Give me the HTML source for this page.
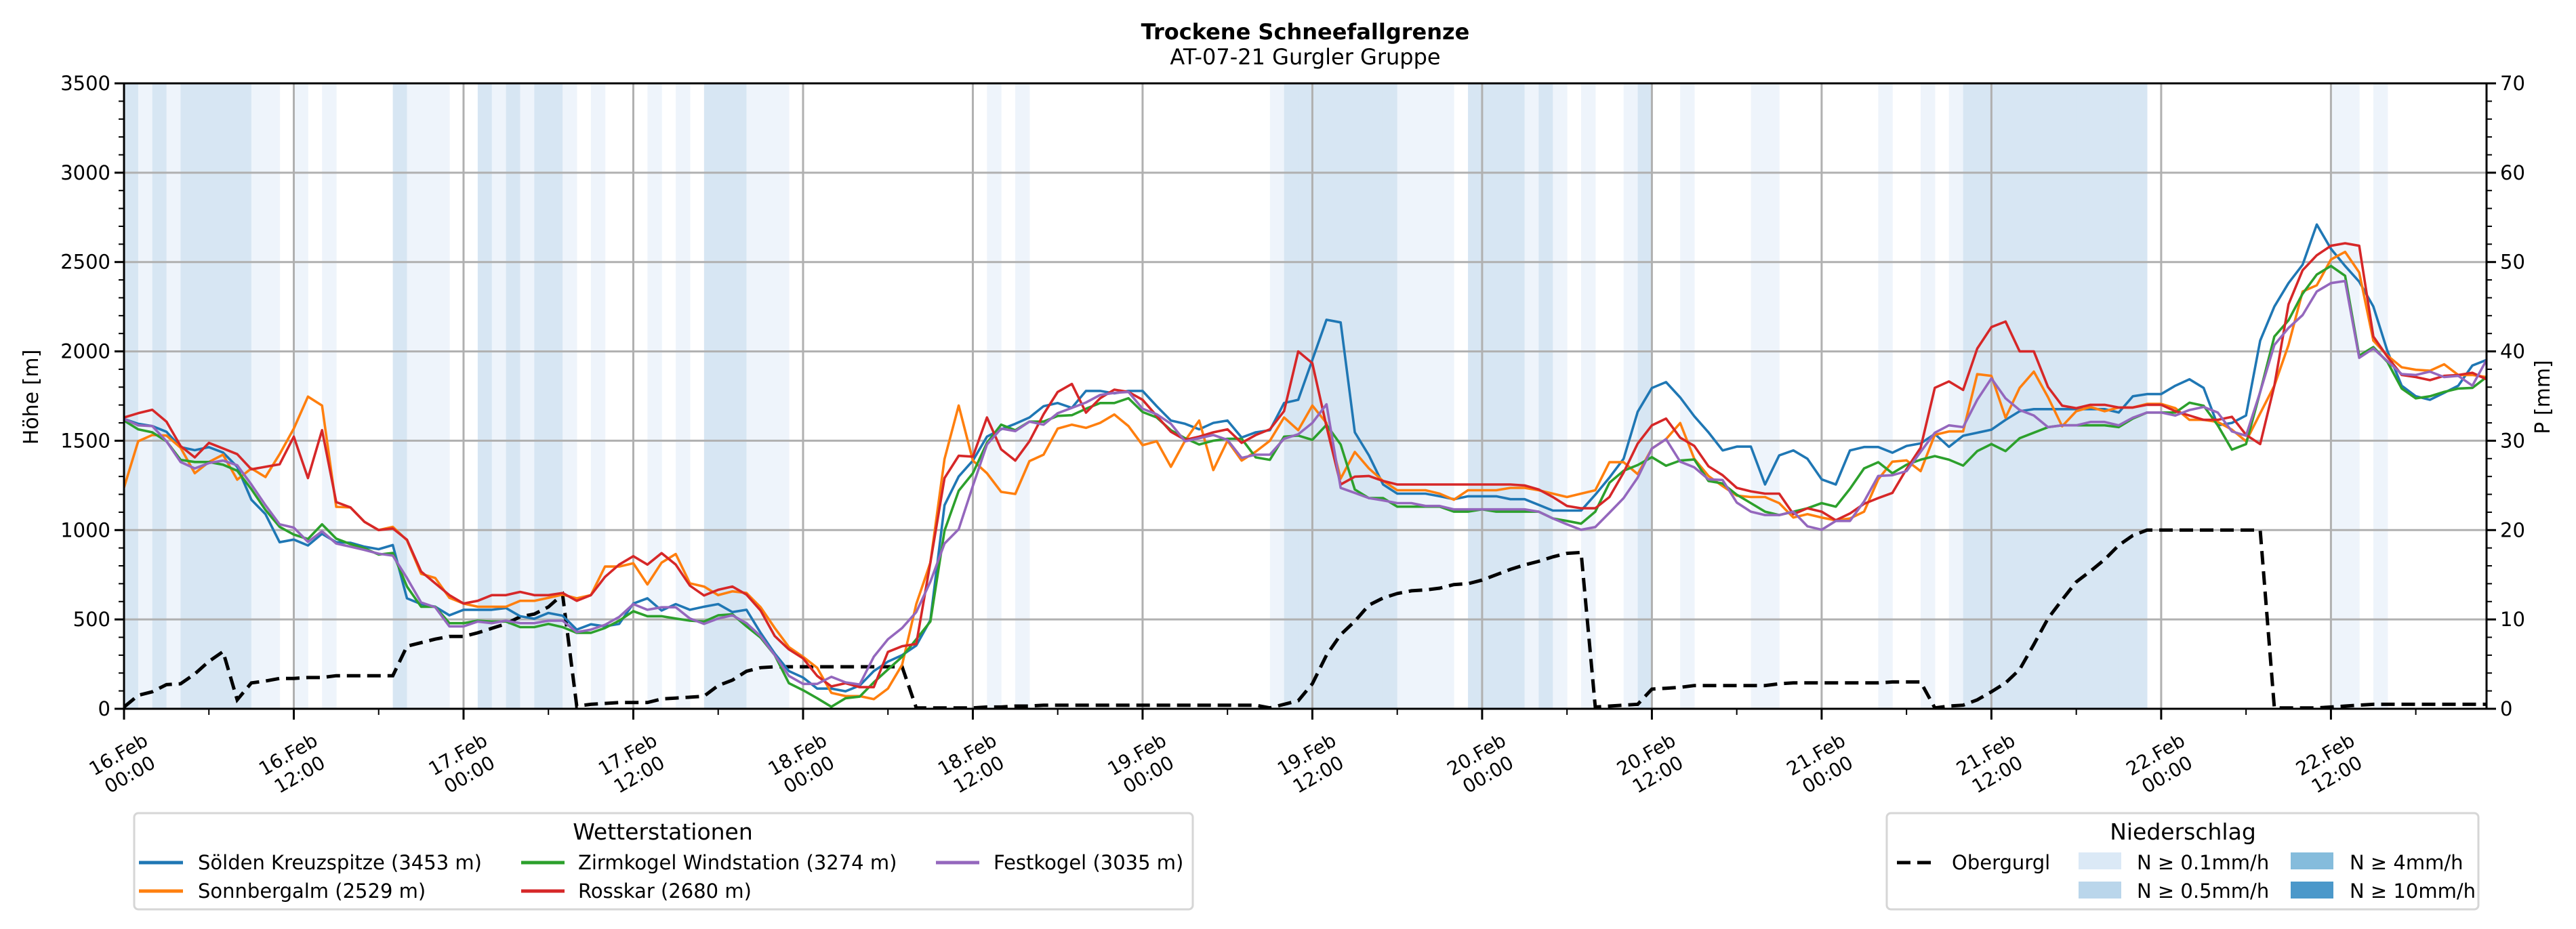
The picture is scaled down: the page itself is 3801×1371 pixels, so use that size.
<!DOCTYPE html>
<html><head><meta charset="utf-8"><style>
html,body{margin:0;padding:0;background:#fff;}
svg{display:block;font-family:"DejaVu Sans","Liberation Sans",sans-serif;}
</style></head><body>
<svg id="chart" xmlns="http://www.w3.org/2000/svg" width="3801" height="1371" viewBox="0 0 3801 1371">
<rect x="0" y="0" width="3801" height="1371" fill="#fff"/>
<text x="1926" y="58" text-anchor="middle" font-size="32" font-weight="bold">Trockene Schneefallgrenze</text>
<text x="1926" y="95" text-anchor="middle" font-size="32">AT-07-21 Gurgler Gruppe</text>
<defs><clipPath id="plotclip"><rect x="183" y="123" width="3486" height="923"/></clipPath></defs>
<g id="bands" clip-path="url(#plotclip)"></g>
<g id="grid"></g>
<g id="series" clip-path="url(#plotclip)"></g>
<g id="axes"></g>
<text transform="translate(56,586) rotate(-90)" text-anchor="middle" font-size="30">Höhe [m]</text>
<text transform="translate(3762,586) rotate(-90)" text-anchor="middle" font-size="30">P [mm]</text>

<g>
<rect x="198" y="1200" width="1562" height="142" rx="6" fill="#fff" stroke="#d6d6d6" stroke-width="3"/>
<text x="978" y="1239" text-anchor="middle" font-size="33">Wetterstationen</text>
<g><line x1="205" y1="1273" x2="270" y2="1273" stroke="#1f77b4" stroke-width="5"/><text x="292" y="1283" font-size="29">Sölden Kreuzspitze (3453 m)</text></g>
<g><line x1="205" y1="1315" x2="270" y2="1315" stroke="#ff7f0e" stroke-width="5"/><text x="292" y="1325" font-size="29">Sonnbergalm (2529 m)</text></g>
<g><line x1="769" y1="1273" x2="833" y2="1273" stroke="#2ca02c" stroke-width="5"/><text x="853" y="1283" font-size="29">Zirmkogel Windstation (3274 m)</text></g>
<g><line x1="769" y1="1315" x2="833" y2="1315" stroke="#d62728" stroke-width="5"/><text x="853" y="1325" font-size="29">Rosskar (2680 m)</text></g>
<g><line x1="1381" y1="1273" x2="1445" y2="1273" stroke="#9467bd" stroke-width="5"/><text x="1466" y="1283" font-size="29">Festkogel (3035 m)</text></g>
</g>

<g>
<rect x="2784" y="1200" width="873" height="142" rx="6" fill="#fff" stroke="#d6d6d6" stroke-width="3"/>
<text x="3221" y="1239" text-anchor="middle" font-size="33">Niederschlag</text>
<g><line x1="2799" y1="1273" x2="2855" y2="1273" stroke="#000" stroke-width="5" stroke-dasharray="20 10"/><text x="2880" y="1283" font-size="29">Obergurgl</text></g>
<g><rect x="3067" y="1258" width="63" height="25" fill="#dbe9f6"/><text x="3153" y="1283" font-size="29">N ≥ 0.1mm/h</text></g>
<g><rect x="3067" y="1301" width="63" height="25" fill="#bad6eb"/><text x="3153" y="1325" font-size="29">N ≥ 0.5mm/h</text></g>
<g><rect x="3380" y="1258" width="63" height="25" fill="#85bcdc"/><text x="3467" y="1283" font-size="29">N ≥ 4mm/h</text></g>
<g><rect x="3380" y="1301" width="63" height="25" fill="#4b98ca"/><text x="3467" y="1325" font-size="29">N ≥ 10mm/h</text></g>
</g>
</svg>
<script>
const soelden = [1622,1595,1582,1550,1464,1447,1464,1434,1354,1170,1089,932,947,914,979,932,929,907,893,916,618,586,571,523,554,554,554,564,518,504,536,521,443,473,461,475,589,618,550,586,554,571,586,
541,554,425,309,211,175,113,113,98,130,211,264,300,354,496,1139,1300,1389,1523,1564,1595,1630,1693,1711,1684,1779,1779,1765,1779,1779,1693,1613,1595,1564,1600,1613,1518,1547,1559,1711,1729,1952,
2177,2162,1547,1418,1255,1204,1204,1204,1189,1173,1189,1189,1189,1173,1173,1141,1109,1109,1109,1198,1294,1399,1662,1795,1828,1742,1637,1547,1446,1467,1467,1255,1418,1446,1399,1284,1255,1446,1465,1465,1433,1471,
1485,1538,1466,1528,1545,1562,1617,1665,1677,1677,1677,1677,1677,1677,1658,1749,1761,1761,1808,1844,1796,1586,1600,1641,2060,2251,2382,2485,2710,2574,2478,2390,2251,2000,1808,1749,1729,1768,1808,1921,1952];
const sonnbergalm = [1238,1497,1532,1529,1461,1318,1381,1422,1282,1345,1297,1425,1568,1747,1697,1130,1127,1046,1000,1018,943,755,732,621,589,571,571,571,604,604,621,639,618,636,796,796,814,696,818,866,702,684,636,
657,648,568,452,345,291,229,89,71,71,54,113,246,586,818,1398,1697,1389,1318,1214,1202,1386,1422,1568,1590,1572,1600,1647,1582,1475,1497,1354,1500,1613,1336,1500,1389,1439,1500,1630,1559,1697,
1599,1288,1437,1345,1275,1223,1223,1223,1204,1170,1223,1223,1223,1236,1236,1223,1204,1185,1204,1223,1380,1380,1313,1456,1509,1599,1399,1303,1246,1193,1185,1185,1151,1070,1089,1070,1055,1065,1103,1284,1383,1390,
1330,1533,1552,1552,1873,1863,1629,1796,1887,1744,1581,1665,1689,1665,1686,1686,1706,1706,1682,1617,1617,1605,1562,1497,1653,1808,2036,2335,2370,2514,2557,2442,2060,1976,1911,1897,1892,1928,1868,1868,1856];
const zirmkogel = [1613,1564,1547,1497,1393,1381,1381,1366,1332,1229,1113,1018,975,950,1032,952,922,898,863,872,684,571,571,479,479,493,488,488,457,457,475,457,425,425,452,493,546,518,518,505,493,488,523,
529,461,398,300,143,104,59,11,59,68,148,220,291,389,488,997,1220,1318,1488,1590,1559,1607,1607,1639,1643,1679,1711,1711,1738,1661,1630,1559,1514,1479,1500,1511,1511,1407,1393,1523,1529,1505,
1589,1479,1227,1179,1179,1131,1131,1131,1131,1103,1103,1116,1103,1103,1103,1103,1065,1051,1036,1103,1265,1332,1364,1408,1360,1389,1395,1275,1261,1198,1151,1103,1084,1103,1122,1151,1131,1231,1345,1380,1318,1366,
1394,1414,1394,1361,1442,1481,1442,1514,1545,1576,1586,1586,1586,1586,1576,1624,1658,1658,1658,1713,1696,1586,1450,1481,1773,2083,2174,2323,2430,2478,2423,1976,2024,1940,1792,1737,1749,1773,1792,1796,1856];
const rosskar = [1630,1654,1673,1607,1470,1407,1488,1457,1425,1340,1354,1368,1523,1291,1559,1157,1127,1046,1000,1009,946,768,702,636,589,604,636,636,654,636,636,648,604,636,738,807,854,807,871,807,689,634,666,
684,639,550,407,332,282,184,125,143,121,121,318,350,363,818,1291,1416,1411,1630,1452,1389,1497,1648,1773,1818,1657,1738,1786,1773,1729,1639,1550,1505,1523,1547,1564,1488,1532,1564,1666,2000,1934,
1580,1255,1299,1303,1275,1255,1255,1255,1255,1255,1255,1255,1255,1255,1250,1227,1185,1135,1122,1122,1185,1322,1484,1586,1624,1517,1471,1357,1307,1236,1217,1204,1204,1089,1122,1103,1055,1093,1147,1179,1208,1342,
1461,1796,1832,1784,2016,2136,2167,2000,2000,1801,1696,1682,1701,1701,1686,1686,1701,1701,1665,1641,1617,1617,1634,1533,1481,1808,2263,2454,2538,2591,2605,2591,2083,1969,1868,1856,1839,1863,1868,1880,1844];
const festkogel = [1622,1586,1582,1497,1381,1345,1375,1389,1363,1255,1139,1032,1014,934,993,925,907,889,868,857,732,595,568,461,461,488,479,493,479,479,493,493,429,443,470,514,586,554,568,568,505,475,505,
523,479,407,300,184,139,139,179,148,136,291,389,452,541,711,925,1005,1247,1479,1568,1554,1607,1590,1654,1684,1714,1756,1768,1773,1679,1648,1595,1497,1514,1532,1505,1404,1422,1422,1511,1536,1600,
1704,1236,1208,1179,1166,1151,1151,1135,1135,1116,1116,1116,1116,1116,1116,1103,1065,1032,1002,1017,1097,1179,1294,1456,1509,1383,1351,1284,1280,1154,1103,1084,1084,1103,1021,1002,1051,1051,1160,1303,1307,1330,
1438,1545,1586,1576,1729,1849,1737,1672,1641,1576,1586,1586,1605,1605,1586,1629,1658,1658,1641,1672,1689,1658,1552,1528,1773,2036,2131,2203,2335,2382,2394,1964,2016,1945,1873,1868,1887,1856,1863,1808,1952];
const obergurgl = [0.2,1.5,1.9,2.7,2.8,3.9,5.3,6.4,1.0,2.9,3.1,3.4,3.4,3.5,3.5,3.7,3.7,3.7,3.7,3.7,7.0,7.4,7.8,8.1,8.1,8.5,9.0,9.5,10.3,10.6,11.4,12.8,0.3,0.5,0.6,0.7,0.7,0.7,1.1,1.2,1.3,1.4,2.6,
3.2,4.2,4.6,4.7,4.7,4.7,4.7,4.7,4.7,4.7,4.7,4.7,4.7,0.1,0.1,0.1,0.1,0.1,0.2,0.2,0.3,0.3,0.4,0.4,0.4,0.4,0.4,0.4,0.4,0.4,0.4,0.4,0.4,0.4,0.4,0.4,0.4,0.4,0.1,0.5,0.9,2.8,
6.0,8.3,9.8,11.6,12.4,12.9,13.2,13.3,13.5,13.9,14.0,14.4,15.0,15.6,16.1,16.5,17.0,17.4,17.5,0.2,0.3,0.4,0.5,2.2,2.3,2.4,2.6,2.6,2.6,2.6,2.6,2.6,2.8,2.9,2.9,2.9,2.9,2.9,2.9,2.9,3.0,3.0,
3.0,0.1,0.3,0.4,1.0,1.9,2.9,4.4,7.2,10.1,12.2,14.2,15.4,16.7,18.3,19.4,20,20,20,20,20,20,20,20,20,0.1,0.1,0.1,0.1,0.2,0.3,0.4,0.5,0.5,0.5,0.5,0.5,0.5,0.5,0.5,0.5];
const precipHours = [0.7,0.2,0.7,0.2,0.7,0.7,0.7,0.7,0.7,0.2,0.2,0,0.2,0,0.2,0,0,0,0,0.7,0.2,0.2,0.2,0,0,0.7,0.2,0.7,0.2,0.7,0.7,0.2,0,0.2,0,0,0,0.2,0,0.2,0,0.7,0.7,0.7,0.2,0.2,0.2,0,
0,0,0,0,0,0,0,0,0,0,0,0,0,0.2,0,0.2,0,0,0,0,0,0,0,0,0,0,0,0,0,0,0,0,0,0.2,0.7,0.7,0.7,0.7,0.7,0.7,0.7,0.7,0.2,0.2,0.2,0.2,0,0.7,
0.7,0.7,0.7,0.2,0.7,0.2,0,0.2,0,0,0.2,0.7,0,0,0.2,0,0,0,0,0.2,0.2,0,0,0,0,0,0,0,0.2,0,0,0.2,0,0.2,0.7,0.7,0.7,0.7,0.7,0.7,0.7,0.7,0.7,0.7,0.7,0.7,0.7,
0,0,0,0,0,0,0,0,0,0,0,0,0,0.2,0.2,0,0.2,0,0,0,0,0,0,0,0];
const yTicksLeft = [0,500,1000,1500,2000,2500,3000,3500];
const yTicksRight = [0,10,20,30,40,50,60,70];
const xTickLabels = ["16.Feb|00:00","16.Feb|12:00","17.Feb|00:00","17.Feb|12:00","18.Feb|00:00","18.Feb|12:00","19.Feb|00:00","19.Feb|12:00","20.Feb|00:00","20.Feb|12:00","21.Feb|00:00","21.Feb|12:00","22.Feb|00:00","22.Feb|12:00"];

const NS='http://www.w3.org/2000/svg';
const L=183,R=3669,T=123,B=1046,HMAX=167;
const x=h=>L+(R-L)*h/HMAX;
const y=m=>B-(B-T)*m/3500;
const yP=p=>B-(B-T)*p/70;
function mk(tag,attrs,parent){const e=document.createElementNS(NS,tag);for(const k in attrs)e.setAttribute(k,attrs[k]);parent.appendChild(e);return e;}

const bands=document.getElementById('bands');
precipHours.forEach((p,h)=>{
  if(p<0.1) return;
  const col=p>=10?'#4b98ca':p>=4?'#85bcdc':p>=0.5?'#d7e6f3':'#eef4fb';
  const r=mk('rect',{x:x(h),y:T,width:x(h+1)-x(h)+0.5,height:B-T,fill:col},bands);
  
  
});

const grid=document.getElementById('grid');
yTicksLeft.forEach(v=>{const g=mk('line',{x1:L,x2:R,y1:y(v),y2:y(v),stroke:'#b0b0b0','stroke-width':3},grid);
  });
xTickLabels.forEach((t,i)=>{const g=mk('line',{x1:x(i*12),x2:x(i*12),y1:T,y2:B,stroke:'#b0b0b0','stroke-width':3},grid);
  });

const series=document.getElementById('series');
function path(vals,fy){return vals.map((v,i)=>(i?'L':'M')+x(i).toFixed(1)+','+fy(v).toFixed(1)).join('');}
const og=mk('path',{d:path(obergurgl,yP),fill:'none',stroke:'#000','stroke-width':5,'stroke-dasharray':'20 10'},series);


const defs=[[soelden,'#1f77b4','soelden-line'],[sonnbergalm,'#ff7f0e','sonnbergalm-line'],[zirmkogel,'#2ca02c','zirmkogel-line'],[rosskar,'#d62728','rosskar-line'],[festkogel,'#9467bd','festkogel-line']];
defs.forEach(d=>{const p=mk('path',{d:path(d[0],y),fill:'none',stroke:d[1],'stroke-width':3.6,'stroke-linejoin':'round'},series);
  
  });

const axes=document.getElementById('axes');
mk('rect',{x:L,y:T,width:R-L,height:B-T,fill:'none',stroke:'#000','stroke-width':3},axes);
for(let v=0;v<=3500;v+=100){const maj=v%500===0;mk('line',{x1:L,x2:L-(maj?14:8),y1:y(v),y2:y(v),stroke:'#000','stroke-width':maj?3:2},axes);}
for(let v=0;v<=70;v+=2){const maj=v%10===0;mk('line',{x1:R,x2:R+(maj?14:8),y1:yP(v),y2:yP(v),stroke:'#000','stroke-width':maj?3:2},axes);}
for(let h=0;h<=HMAX;h+=6){const maj=h%12===0;mk('line',{x1:x(h),x2:x(h),y1:B,y2:B+(maj?16:9),stroke:'#000','stroke-width':maj?3:2},axes);}
yTicksLeft.forEach(v=>{const t=mk('text',{x:L-20,y:y(v)+10,'text-anchor':'end','font-size':29},axes);t.textContent=v;
  });
yTicksRight.forEach(v=>{const t=mk('text',{x:R+20,y:yP(v)+10,'font-size':29},axes);t.textContent=v;
  });
xTickLabels.forEach((lab,i)=>{
  const g=mk('g',{transform:'translate('+x(i*12)+',1128) rotate(-30)'},axes);
  
  
  const parts=lab.split('|');
  const a=mk('text',{x:0,y:-7,'text-anchor':'middle','font-size':28},g);a.textContent=parts[0];
  const b=mk('text',{x:0,y:27,'text-anchor':'middle','font-size':28},g);b.textContent=parts[1];
});
</script>
</body></html>
